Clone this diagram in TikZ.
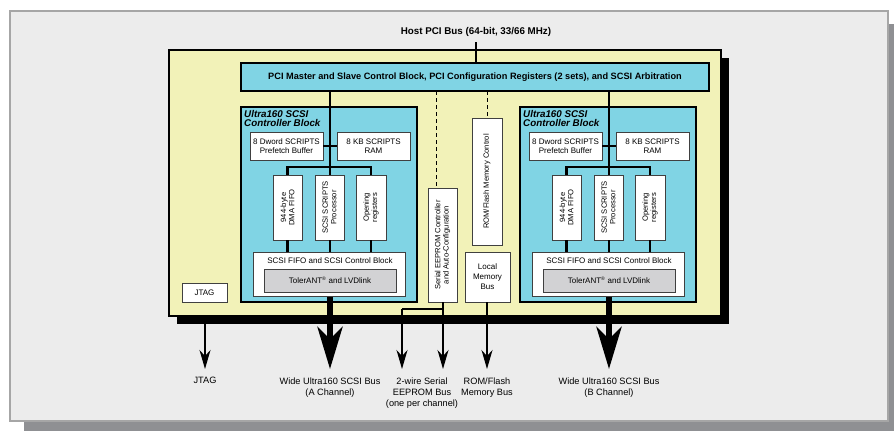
\documentclass[tikz,border=0pt]{standalone}
\usepackage{fontspec}
\setmainfont{Liberation Sans}
\usetikzlibrary{arrows.meta}
\definecolor{panelbg}{HTML}{ECECEC}
\definecolor{panelline}{HTML}{A6A6A6}
\definecolor{panelshadow}{HTML}{8F9093}
\definecolor{chipyellow}{HTML}{F2F2B8}
\definecolor{blockcyan}{HTML}{80D4E4}
\definecolor{lvdgray}{HTML}{D2D2D4}
\definecolor{boxline}{HTML}{404040}
\tikzset{
  cyanblock/.style={draw=black, line width=1.1pt, fill=blockcyan, inner sep=0pt},
  whitebox/.style={draw=boxline, line width=0.8pt, fill=white, inner sep=0pt, align=center, font=\fontsize{8}{9}\selectfont},
  graybox/.style={draw=boxline, line width=0.8pt, fill=lvdgray, inner sep=0pt, align=center, font=\fontsize{8}{9}\selectfont},
  vtext/.style={rotate=90, align=center, font=\fontsize{7.6}{8.4}\selectfont},
  bus/.style={line width=2.6pt},
  bigarrow/.style={line width=6pt, -{Stealth[length=42pt,width=25pt,inset=12pt]}},
  thinarrow/.style={line width=1.3pt, -{Stealth[length=19pt,width=11pt,inset=6pt]}},
  dashline/.style={line width=0.9pt, dashed, dash pattern=on 4pt off 3pt},
  lbl/.style={align=center, font=\fontsize{9.2}{11}\selectfont},
}
\begin{document}
\begin{tikzpicture}[x=1pt,y=-1pt]
\useasboundingbox (0,0) rectangle (894,431);
% outer panel
\fill[panelshadow] (24,24) rectangle (894,431);
\draw[panelline, line width=1.2pt, fill=panelbg] (10,11) rectangle (888,421);
% chip
\fill[black] (177,58) rectangle (729,324);
\draw[black, line width=1.1pt, fill=chipyellow] (169,50) rectangle (721,316);
\node[font=\bfseries\fontsize{9.8}{11}\selectfont] (host) at (476,32) {Host PCI Bus (64-bit, 33/66 MHz)};
% PCI block
\node[cyanblock, minimum width=468pt, minimum height=28pt, font=\bfseries\fontsize{9.2}{10}\selectfont] (pci) at (475,77)
  {PCI Master and Slave Control Block, PCI Configuration Registers (2 sets), and SCSI Arbitration};
\coordinate (hosttop) at (476,42);
\draw[line width=2.4pt] (hosttop) -- (pci.north -| hosttop);

% controller blocks
\foreach \n/\dx in {A/0,B/279}{
  \node[cyanblock, minimum width=176pt, minimum height=195pt] (blk\n) at (329+\dx,204.5) {};
  \node[anchor=north west, align=left, inner sep=0pt, font=\bfseries\itshape\fontsize{9.8}{9.6}\selectfont] (ttl\n) at (244+\dx,110) {Ultra160 SCSI\\Controller Block};
  \coordinate (bus\n) at (330+\dx,91);
  \node[whitebox, minimum width=73pt, minimum height=28pt] (pf\n) at (286.5+\dx,146) {8 Dword SCRIPTS\\Prefetch Buffer};
  \node[whitebox, minimum width=73pt, minimum height=28pt] (ram\n) at (373.5+\dx,146) {8 KB SCRIPTS\\RAM};
  \node[whitebox, minimum width=29pt, minimum height=65pt] (dma\n) at (287.5+\dx,207.5) {};
  \node[vtext] at (dma\n) {944-byte\\DMA FIFO};
  \node[whitebox, minimum width=29pt, minimum height=65pt] (proc\n) at (329.5+\dx,207.5) {};
  \node[vtext] at (proc\n) {SCSI SCRIPTS\\Processor};
  \node[whitebox, minimum width=30pt, minimum height=65pt] (opr\n) at (371+\dx,207.5) {};
  \node[vtext] at (opr\n) {Opening\\registers};
  \node[whitebox, minimum width=152pt, minimum height=44pt, anchor=north] (fifo\n) at (329+\dx,252) {};
  \node[font=\fontsize{8}{9}\selectfont] at (330+\dx,261) {SCSI FIFO and SCSI Control Block};
  \node[graybox, minimum width=132pt, minimum height=23pt] (lvd\n) at (330+\dx,280.5) {TolerANT\textsuperscript{\tiny ®} and LVDlink};
  % internal buses
  \coordinate (hb\n) at (330+\dx,167);
  \draw[bus] (bus\n) -- (proc\n.north -| bus\n);
  \draw[bus] (pf\n.east) -- (ram\n.west);
  \draw[bus] (dma\n.north) |- (hb\n) -| (opr\n.north);
  \draw[bus] (dma\n.south) -- (fifo\n.north -| dma\n.south);
  \draw[bus] (proc\n.south -| bus\n) -- (fifo\n.north -| bus\n);
  \draw[bus] (opr\n.south) -- (fifo\n.north -| opr\n.south);
  \coordinate (tip\n) at (330+\dx,369);
  \draw[bigarrow] (fifo\n.south -| tip\n) -- (tip\n);
}

% EEPROM & ROM
\node[whitebox, minimum width=29pt, minimum height=114pt] (eep) at (442.5,245) {};
\node[vtext] at (eep) {Serial EEPROM Controller\\and Auto-Configuration};
\node[whitebox, minimum width=30pt, minimum height=127pt] (romc) at (487,181.5) {};
\node[vtext] at (romc) {ROM/Flash Memory Control};
\node[whitebox, minimum width=45pt, minimum height=50pt, font=\fontsize{8}{10}\selectfont] (lmb) at (487.5,277) {Local\\Memory\\Bus};
\coordinate (eepx) at (436,91);
\draw[dashline] (eepx) -- (eep.north -| eepx);
\coordinate (romx) at (487,91);
\draw[dashline] (romx) -- (romc.north -| romx);

% JTAG
\node[whitebox, minimum width=45pt, minimum height=19pt] (jtag) at (204.5,292.5) {JTAG};

% external connectors
\coordinate (jtagtop) at (205,316);
\coordinate (jtagtip) at (205,369);
\draw[thinarrow] (jtagtop) -- (jtagtip);
\coordinate (eeptip1) at (402,369);
\coordinate (eeptip2) at (443,369);
\coordinate (eepsplit) at (443,309);
\draw[thinarrow] (eep.south -| eeptip2) -- (eeptip2);
\draw[line width=1.1pt] (eepsplit) -- (eepsplit -| eeptip1);
\draw[thinarrow] (eepsplit -| eeptip1) -- (eeptip1);
\coordinate (romtip) at (487,369);
\draw[thinarrow] (lmb.south -| romtip) -- (romtip);

% labels
\node[lbl, anchor=north] (ljtag) at (205,374) {JTAG};
\node[lbl, anchor=north] (lA) at (330,374) {Wide Ultra160 SCSI Bus\\(A Channel)};
\node[lbl, anchor=north] (leep) at (422,374) {2-wire Serial\\EEPROM Bus\\(one per channel)};
\node[lbl, anchor=north] (lrom) at (487,374) {ROM/Flash\\Memory Bus};
\node[lbl, anchor=north] (lB) at (609,374) {Wide Ultra160 SCSI Bus\\(B Channel)};
\end{tikzpicture}
\end{document}
